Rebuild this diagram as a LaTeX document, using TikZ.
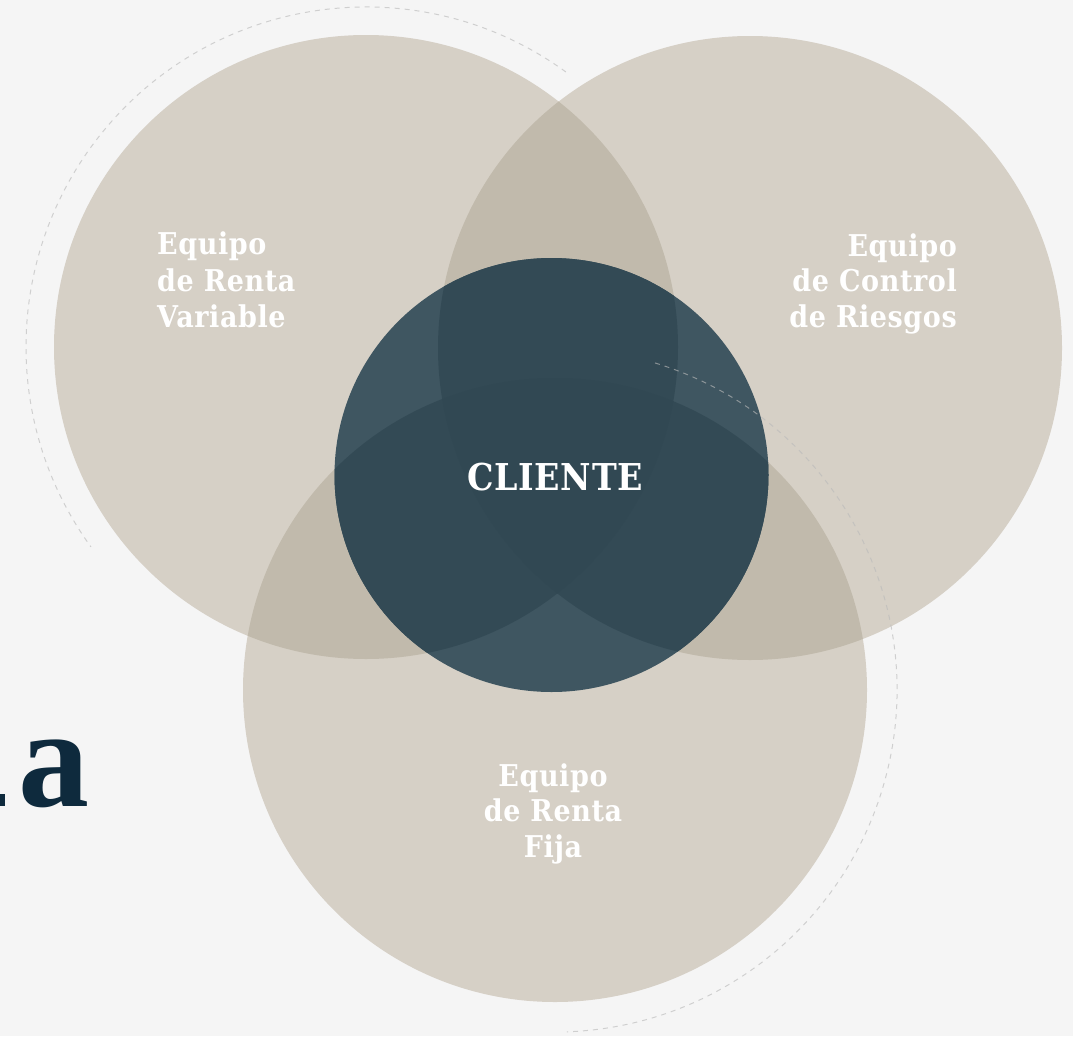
\documentclass[tikz,border=0pt]{standalone}
\usepackage{fontspec}
\newfontfamily\labfont{DejaVu Serif}[FakeStretch=0.9, LetterSpace=2]
\newfontfamily\bigfont{Liberation Serif}
\definecolor{bg}{HTML}{F5F5F5}
\definecolor{beigeA}{HTML}{D6D0C6}
\definecolor{beigeB}{HTML}{C1BAAC}
\definecolor{darkA}{HTML}{3F5661}
\definecolor{darkB}{HTML}{334A55}
\definecolor{darkC}{HTML}{314853}
\definecolor{navy}{HTML}{0E2A3D}
\definecolor{dashgray}{HTML}{BABABA}
\begin{document}
\begin{tikzpicture}[x=1pt,y=-1pt,
  lab/.style={text=white, inner sep=0pt, font={\labfont\bfseries\fontsize{30}{36}\selectfont}},
  clab/.style={text=white, inner sep=0pt, font={\labfont\bfseries\fontsize{37}{44}\selectfont}},
  dashline/.style={draw=dashgray, draw opacity=0.63, line width=1pt, dash pattern=on 5pt off 5pt}]
\useasboundingbox (0,0) rectangle (1073,1036);
\fill[bg] (0,0) rectangle (1073,1036);
\coordinate (cL) at (366,347);
\coordinate (cR) at (750,348);
\coordinate (cB) at (555,690);
\coordinate (cC) at (551.5,475);
% big letter
\node[anchor=base west, inner sep=0pt, text=navy, font={\bigfont\bfseries\fontsize{142}{142}\selectfont}] (biga) at (18,806) {a};
\fill[navy] (0,794) rectangle (5,806);
% beige circles
\fill[beigeA] (cL) circle[radius=312pt];
\fill[beigeA] (cR) circle[radius=312pt];
\fill[beigeA] (cB) circle[radius=312pt];
\begin{scope}\clip (cL) circle[radius=312pt]; \fill[beigeB] (cR) circle[radius=312pt]; \end{scope}
\begin{scope}\clip (cL) circle[radius=312pt]; \fill[beigeB] (cB) circle[radius=312pt]; \end{scope}
\begin{scope}\clip (cR) circle[radius=312pt]; \fill[beigeB] (cB) circle[radius=312pt]; \end{scope}
% central circle
\fill[darkA] (cC) circle[radius=217pt];
\begin{scope}
  \clip (cC) circle[radius=217pt];
  \begin{scope}\clip (cL) circle[radius=312pt]; \fill[darkB] (cR) circle[radius=312pt]; \end{scope}
  \begin{scope}\clip (cL) circle[radius=312pt]; \fill[darkB] (cB) circle[radius=312pt]; \end{scope}
  \begin{scope}\clip (cR) circle[radius=312pt]; \fill[darkB] (cB) circle[radius=312pt]; \end{scope}
  \begin{scope}\clip (cL) circle[radius=312pt]; \clip (cR) circle[radius=312pt]; \fill[darkC] (cB) circle[radius=312pt]; \end{scope}
\end{scope}
% dashed arcs
\draw[dashline] (cL) ++(54:340pt) arc[start angle=54, end angle=216, radius=340pt];
\draw[dashline] (cB) ++(73:342pt) arc[start angle=73, end angle=-88, radius=342pt];
% labels
\node[lab, anchor=base west] (v1) at (157,254) {Equipo};
\node[lab, anchor=base west] (v2) at (157,291) {de Renta};
\node[lab, anchor=base west] (v3) at (157,327) {Variable};
\node[lab, anchor=base east] (r1) at (957,256) {Equipo};
\node[lab, anchor=base east] (r2) at (957,291.5) {de Control};
\node[lab, anchor=base east] (r3) at (957,327) {de Riesgos};
\node[lab, anchor=base] (f1) at (553,786.5) {Equipo};
\node[lab, anchor=base] (f2) at (553,821.5) {de Renta};
\node[lab, anchor=base] (f3) at (553,857) {Fija};
\node[clab, anchor=base] (cl) at (555,490) {CLIENTE};
\end{tikzpicture}
\end{document}
